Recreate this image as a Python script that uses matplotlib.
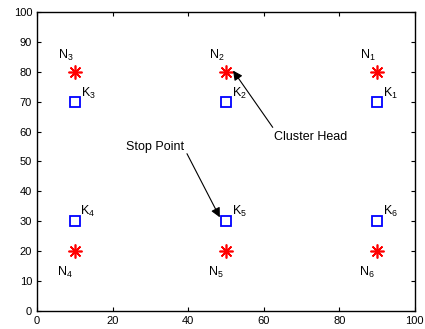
import numpy as np
import matplotlib.pyplot as plt

plt.rcParams['font.family'] = ['Liberation Sans', 'DejaVu Sans']
plt.rcParams['mathtext.fontset'] = 'custom'
plt.rcParams['mathtext.rm'] = 'Liberation Sans'
plt.rcParams['mathtext.it'] = 'Liberation Sans'

# cluster heads (N) and stop points (K)
n_x = [90, 50, 10, 10, 50, 90]
n_y = [80, 80, 80, 20, 20, 20]
k_x = [90, 50, 10, 10, 50, 90]
k_y = [70, 70, 70, 30, 30, 30]
labels_idx = [1, 2, 3, 4, 5, 6]

fig = plt.figure(figsize=(4.25, 3.29), dpi=100)
ax = fig.add_axes([0.087, 0.055, 0.889, 0.9085])

ax.plot(n_x, n_y, linestyle='none', marker=(8, 2, 0), color='red',
        markersize=10, markeredgewidth=1.2)
ax.plot(k_x, k_y, linestyle='none', marker='s', markerfacecolor='none',
        markeredgecolor='blue', markersize=7, markeredgewidth=1.3)

for i in range(6):
    if n_y[i] > 50:
        ax.text(n_x[i] - 2.5, n_y[i] + 5.3, 'N$_{%d}$' % labels_idx[i],
                ha='center', va='center', fontsize=9)
        ax.text(k_x[i] + 3.5, k_y[i] + 2.8, 'K$_{%d}$' % labels_idx[i],
                ha='center', va='center', fontsize=9)
    else:
        ax.text(n_x[i] - 2.7, n_y[i] - 7.2, 'N$_{%d}$' % labels_idx[i],
                ha='center', va='center', fontsize=9)
        ax.text(k_x[i] + 3.5, k_y[i] + 3.4, 'K$_{%d}$' % labels_idx[i],
                ha='center', va='center', fontsize=9)

ax.text(62.8, 58.2, 'Cluster Head', ha='left', va='center', fontsize=9)
ax.annotate('', xy=(51.9, 80.4), xytext=(62.4, 61.4),
            arrowprops=dict(arrowstyle='-|>', color='k', lw=0.8,
                            mutation_scale=14, shrinkA=0, shrinkB=0))
ax.text(31.2, 54.8, 'Stop Point', ha='center', va='center', fontsize=9)
ax.annotate('', xy=(48.4, 31.3), xytext=(39.7, 52.6),
            arrowprops=dict(arrowstyle='-|>', color='k', lw=0.8,
                            mutation_scale=14, shrinkA=0, shrinkB=0))

ax.set_xlim(0, 100)
ax.set_ylim(0, 100)
ax.set_xticks(np.arange(0, 101, 20))
ax.set_yticks(np.arange(0, 101, 10))
ax.tick_params(direction='in', top=True, right=True, labelsize=8, length=3)
for s in ax.spines.values():
    s.set_linewidth(1.0)

fig.savefig('out.png', dpi=100)
